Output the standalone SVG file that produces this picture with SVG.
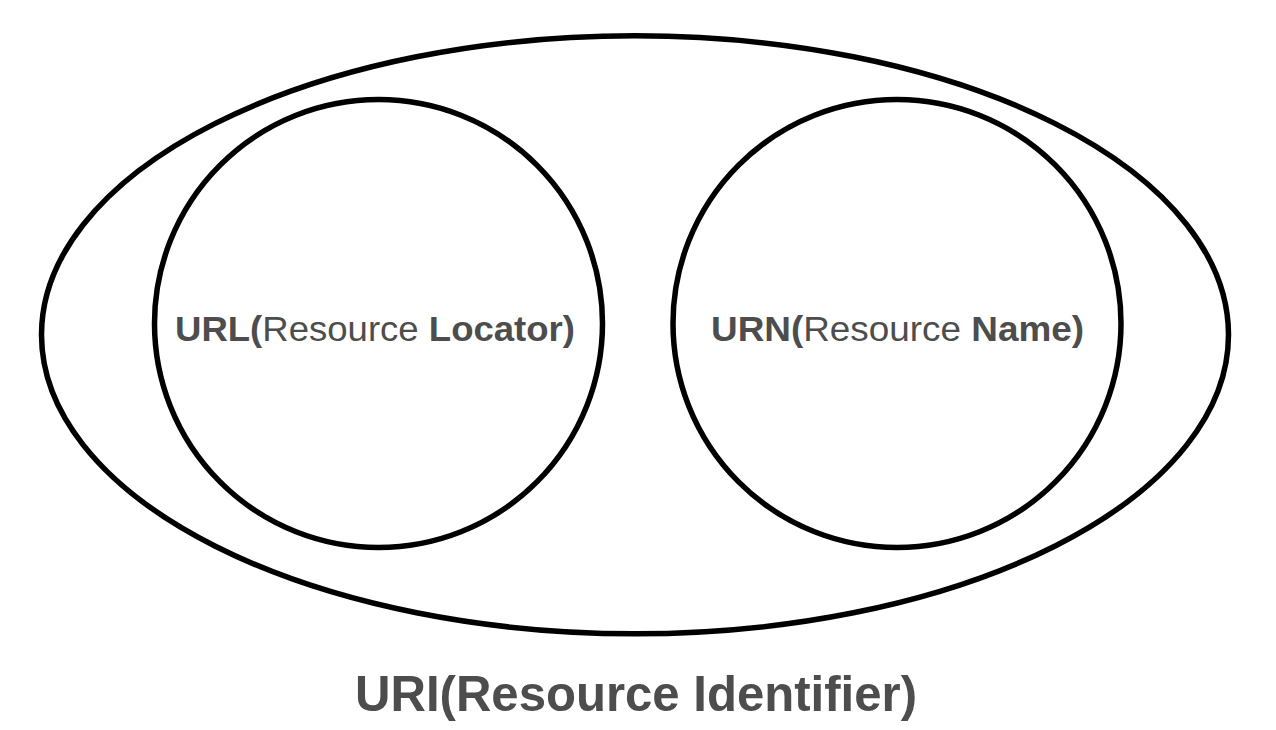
<svg xmlns="http://www.w3.org/2000/svg" width="1276" height="730" viewBox="0 0 1276 730">
<style>
.shape{fill:none;stroke:#000;stroke-width:5.5}
.lbl{font-family:"Liberation Sans",Arial,Helvetica,sans-serif;fill:#4d4d4d;text-anchor:middle}
.b{font-weight:bold}
</style>
<rect width="1276" height="730" fill="#fff"/>
<g id="uri">
<ellipse class="shape" cx="635" cy="334.8" rx="593.5" ry="299"/>
<text class="lbl b" x="636" y="711" font-size="50" textLength="562" lengthAdjust="spacingAndGlyphs">URI(Resource Identifier)</text>
</g>
<g id="url">
<circle class="shape" cx="378.5" cy="323.5" r="224"/>
<text class="lbl" x="375" y="341" font-size="35" textLength="400" lengthAdjust="spacingAndGlyphs"><tspan class="b">URL(</tspan>Resource <tspan class="b">Locator)</tspan></text>
</g>
<g id="urn">
<circle class="shape" cx="897" cy="323.5" r="224"/>
<text class="lbl" x="897.5" y="341" font-size="35" textLength="373" lengthAdjust="spacingAndGlyphs"><tspan class="b">URN(</tspan>Resource <tspan class="b">Name)</tspan></text>
</g>
<g id="connectors"></g>
</svg>
